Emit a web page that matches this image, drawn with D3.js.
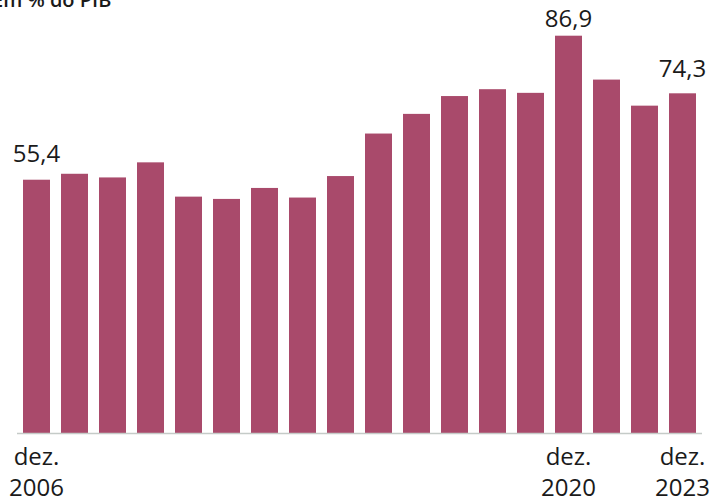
<!DOCTYPE html>
<html>
<head>
<meta charset="utf-8">
<script src="https://cdn.jsdelivr.net/npm/d3@7"></script>
<style>
  body { margin: 0; background: #fff; overflow: hidden; }
  svg { display: block; font-family: "Open Sans", sans-serif; }
</style>
</head>
<body>
<div id="chart"></div>
<script>
// Dívida bruta, em % do PIB (dez. de cada ano)
const years = [2006, 2007, 2008, 2009, 2010, 2011, 2012, 2013, 2014, 2015, 2016, 2017, 2018, 2019, 2020, 2021, 2022, 2023];
const values = [55.4, 56.7, 55.9, 59.2, 51.7, 51.2, 53.6, 51.5, 56.2, 65.5, 69.8, 73.7, 75.2, 74.4, 86.9, 77.3, 71.6, 74.3];
const labelledYears = [2006, 2020, 2023];
const tickYears = [2006, 2020, 2023];

const width = 712, height = 502;
const baseline = 433;

const svg = d3.select('#chart')
  .append("svg")
  .attr("width", width)
  .attr("height", height);

const x = d3.scaleBand()
  .domain(years)
  .range([23, 696])
  .paddingInner(11 / 38)
  .paddingOuter(0);

const y = d3.scaleLinear()
  .domain([0, 86.9])
  .range([baseline, 35.7]);

// Title (cut off at the top, as in the source)
svg.append("text")
  .attr("x", -8)
  .attr("y", 7)
  .attr("font-size", 20)
  .attr("font-weight", 600)
  .attr("fill", "#1a1a1a")
  .text("Em % do PIB");

const data = years.map((yr, i) => ({ year: yr, value: values[i] }));

svg.selectAll("rect")
  .data(data)
  .join("rect")
  .attr("x", d => x(d.year))
  .attr("y", d => y(d.value))
  .attr("width", x.bandwidth())
  .attr("height", d => baseline - y(d.value))
  .attr("fill", "#a94a6b");

// Baseline
svg.append("line")
  .attr("x1", 17)
  .attr("x2", 702)
  .attr("y1", baseline + 0.5)
  .attr("y2", baseline + 0.5)
  .attr("stroke", "#c5cbc8")
  .attr("stroke-width", 1.5);

// Value labels
const labelGap = { 2006: 18, 2020: 9, 2023: 16 };
svg.selectAll("text.value")
  .data(data.filter(d => labelledYears.includes(d.year)))
  .join("text")
  .attr("class", "value")
  .attr("x", d => x(d.year) + x.bandwidth() / 2)
  .attr("y", d => y(d.value) - labelGap[d.year])
  .attr("text-anchor", "middle")
  .attr("font-size", 24)
  .attr("fill", "#1a1a1a")
  .text(d => d3.format(".1f")(d.value).replace(".", ","));

// X tick labels
const ticks = svg.selectAll("g.tick")
  .data(tickYears)
  .join("g")
  .attr("class", "tick")
  .attr("transform", d => `translate(${x(d) + x.bandwidth() / 2},0)`);

ticks.append("text")
  .attr("y", 465)
  .attr("text-anchor", "middle")
  .attr("font-size", 24)
  .attr("fill", "#1a1a1a")
  .text("dez.");

ticks.append("text")
  .attr("y", 496)
  .attr("text-anchor", "middle")
  .attr("font-size", 24)
  .attr("fill", "#1a1a1a")
  .text(d => d);
</script>
</body>
</html>
